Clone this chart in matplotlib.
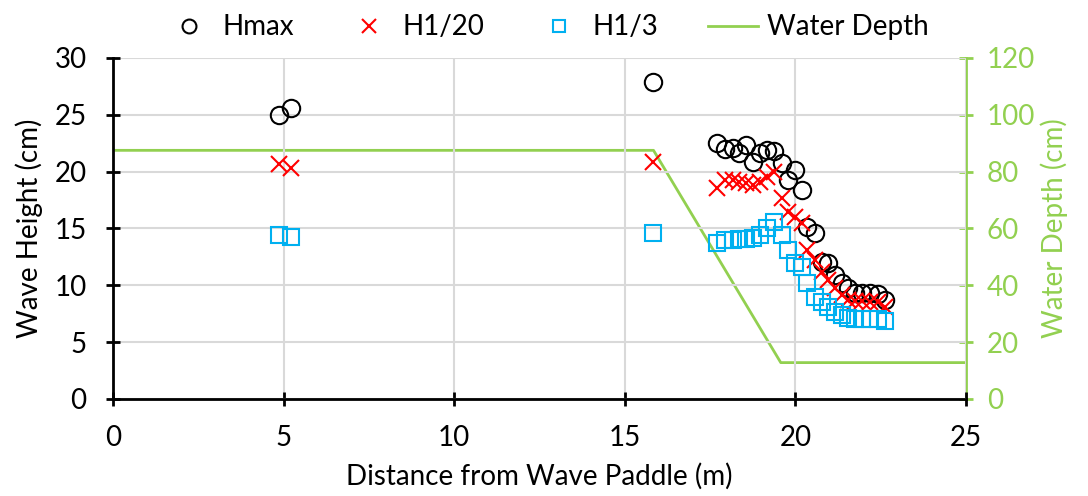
import matplotlib.pyplot as plt
from matplotlib.lines import Line2D

plt.rcParams['font.family'] = ['Lato', 'DejaVu Sans']

# distance from paddle (m) for the gauges
dist = [4.87, 5.22, 15.84,
        17.69, 17.94, 18.16, 18.36, 18.56, 18.77, 18.96, 19.16, 19.37,
        19.60, 19.79, 19.99, 20.18, 20.35, 20.57, 20.77, 20.96, 21.16,
        21.36, 21.55, 21.75, 21.94, 22.19, 22.43, 22.63]

hmax = [24.98, 25.57, 27.9,
        22.49, 21.96, 22.05, 21.6, 22.34, 20.87, 21.6, 21.9, 21.84,
        20.73, 19.26, 20.14, 18.38, 15.15, 14.57, 12.08, 11.93, 10.9,
        10.18, 9.74, 9.3, 9.3, 9.3, 9.2, 8.7]

h1_20 = [20.67, 20.29, 20.87,
         18.53, 19.26, 19.26, 19.1, 18.97, 18.82, 19.1, 19.55, 19.99,
         17.65, 16.47, 16.03, 15.45, 13.1, 12.22, 11.2, 10.47, 9.74,
         9.15, 8.7, 8.6, 8.6, 8.5, 8.5, 8.1]

h1_3 = [14.42, 14.28, 14.63,
        13.75, 13.98, 14.0, 14.1, 14.1, 14.2, 14.42, 15.0, 15.6,
        14.42, 13.1, 11.93, 11.64, 10.18, 9.0, 8.56, 8.12, 7.68,
        7.4, 7.1, 7.0, 7.0, 7.0, 7.0, 6.9]

# flume bathymetry
depth_x = [0, 15.84, 19.57, 25]
depth_y = [87.5, 87.5, 12.8, 12.8]

green = '#92D050'
fs = 20

fig = plt.figure(figsize=(10.88, 4.96), dpi=100)
ax = fig.add_axes([0.1039, 0.1956, 0.7840, 0.6875])
ax2 = ax.twinx()

ax.set_zorder(2)
ax.patch.set_visible(False)

ax.plot(dist, hmax, 'o', ms=12.5, mfc='none', mec='black', mew=1.5)
ax.plot(dist, h1_20, 'x', ms=12, color='red', mew=1.5)
ax.plot(dist, h1_3, 's', ms=11.5, mfc='none', mec='#00B0F0', mew=1.5)
ax2.plot(depth_x, depth_y, color=green, lw=2)

ax.set_xlim(0, 25)
ax.set_ylim(0, 30)
ax2.set_ylim(0, 120)
ax.set_xticks([0, 5, 10, 15, 20, 25])
ax.set_yticks(range(0, 31, 5))
ax2.set_yticks(range(0, 121, 20))

ax.grid(True, color='#D9D9D9', lw=1.5)
ax.set_axisbelow(True)

for a in (ax, ax2):
    a.spines['top'].set_visible(False)
ax.spines['right'].set_visible(False)
ax2.spines['left'].set_visible(False)
ax2.spines['bottom'].set_visible(False)
ax2.spines['right'].set_color(green)
ax2.spines['right'].set_linewidth(2)
ax.spines['left'].set_linewidth(2)
ax.spines['bottom'].set_linewidth(2)

ax.tick_params(axis='both', direction='inout', length=10, width=2, labelsize=fs)
ax.tick_params(axis='x', pad=14)
ax.tick_params(axis='y', pad=14)
ax2.tick_params(axis='y', direction='inout', length=10, width=2, colors=green,
                labelsize=fs, pad=10)

ax.set_xlabel('Distance from Wave Paddle (m)', fontsize=fs, labelpad=8)
ax.set_ylabel('Wave Height (cm)', fontsize=fs, labelpad=8)
ax2.set_ylabel('Water Depth (cm)', fontsize=fs, color=green)

handles = [
    Line2D([], [], ls='none', marker='o', ms=10, mfc='none', mec='black', mew=1.5),
    Line2D([], [], ls='none', marker='x', ms=10, color='red', mew=1.5),
    Line2D([], [], ls='none', marker='s', ms=9, mfc='none', mec='#00B0F0', mew=1.5),
    Line2D([], [], color=green, lw=2),
]
fig.legend(handles, ['Hmax', 'H1/20', 'H1/3', 'Water Depth'], loc='center',
           bbox_to_anchor=(0.502, 0.945), ncol=4, frameon=False, fontsize=fs,
           handlelength=1.8, columnspacing=1.8, handletextpad=0.3)

fig.savefig('out.png', dpi=100)
